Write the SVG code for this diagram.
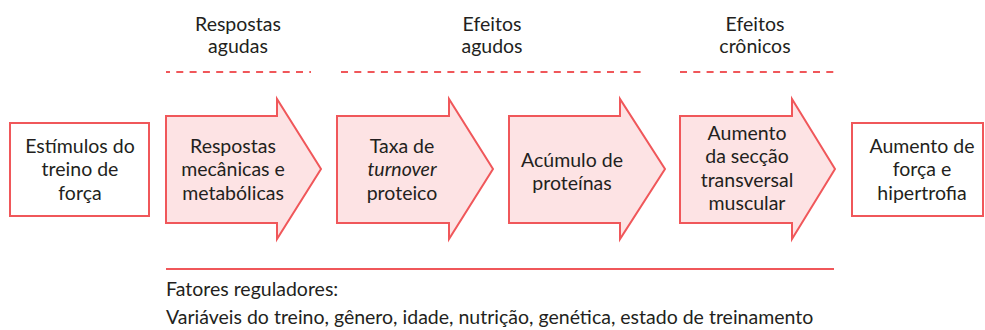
<svg xmlns="http://www.w3.org/2000/svg" width="985" height="330" viewBox="0 0 985 330">
<style>
text{font-family:Lato,"Open Sans","Liberation Sans",sans-serif;font-size:19.5px;fill:#231f20;text-anchor:middle}
.box{fill:#ffffff;stroke:#f0575a;stroke-width:2}
.arr{fill:#fde3e4;stroke:#f0575a;stroke-width:2;stroke-linejoin:miter}
.dash{stroke:#f0575a;stroke-width:2;stroke-dasharray:7 6.3;fill:none}
.solid{stroke:#f0575a;stroke-width:2;fill:none}
.l{text-anchor:start}
</style>
<rect width="985" height="330" fill="#ffffff"/>
<g id="headers">
<text x="238" y="31">Respostas</text><text x="238" y="53">agudas</text>
<text x="492" y="31">Efeitos</text><text x="492" y="53">agudos</text>
<text x="755" y="31">Efeitos</text><text x="755" y="53">crônicos</text>
</g>
<g id="connectors">
<line class="dash" x1="166" y1="72" x2="311" y2="72" stroke-dashoffset="3"/>
<line class="dash" x1="341" y1="72" x2="642" y2="72"/>
<line class="dash" x1="680" y1="72" x2="834" y2="72"/>
<line class="solid" x1="166" y1="269" x2="834" y2="269"/>
</g>
<g id="n1">
<rect class="box" x="10" y="123" width="139" height="93"/>
<text x="80" y="153">Estímulos do</text><text x="80" y="176">treino de</text><text x="80" y="200">força</text>
</g>
<g id="n2">
<path class="arr" d="M166 116H277V99L321 169L277 239V223H166Z"/>
<text x="233" y="153">Respostas</text><text x="233" y="176">mecânicas e</text><text x="233" y="200">metabólicas</text>
</g>
<g id="n3">
<path class="arr" d="M337 116H449V99L493 169L449 239V223H337Z"/>
<text x="402" y="153">Taxa de</text><text x="402" y="176" font-style="italic">turnover</text><text x="402" y="200">proteico</text>
</g>
<g id="n4">
<path class="arr" d="M509 116H620V99L665 169L620 239V223H509Z"/>
<text x="572" y="167">Acúmulo de</text><text x="572" y="190">proteínas</text>
</g>
<g id="n5">
<path class="arr" d="M680 116H792V99L835 169L792 239V223H680Z"/>
<text x="747" y="140">Aumento</text><text x="747" y="163">da secção</text><text x="747" y="187">transversal</text><text x="747" y="210">muscular</text>
</g>
<g id="n6">
<rect class="box" x="852" y="123" width="131" height="93"/>
<text x="922" y="153">Aumento de</text><text x="922" y="176">força e</text><text x="922" y="200">hipertrofia</text>
</g>
<g id="footer">
<text class="l" x="166" y="296">Fatores reguladores:</text>
<text class="l" x="166" y="324">Variáveis do treino, gênero, idade, nutrição, genética, estado de treinamento</text>
</g>
</svg>
